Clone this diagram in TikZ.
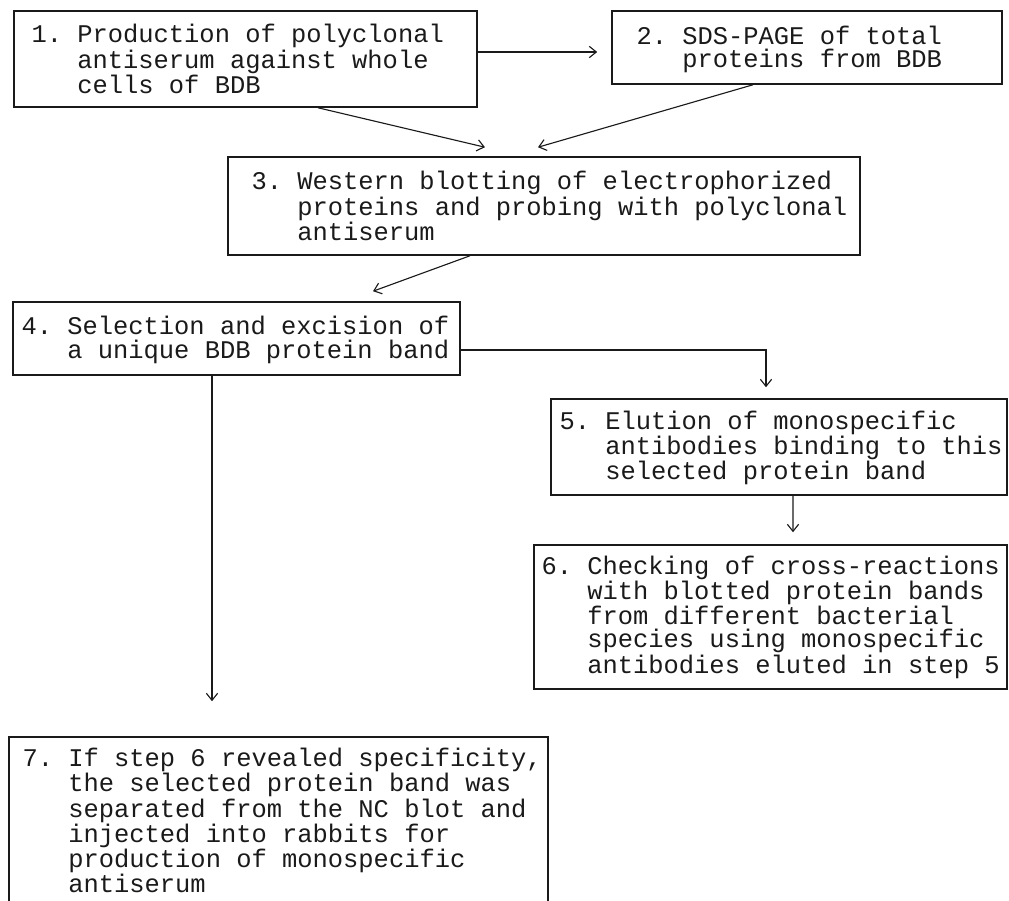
\documentclass[tikz,border=0pt]{standalone}
\usepackage{fontspec}
\setmonofont{Liberation Mono}
\usetikzlibrary{arrows.meta,calc,fit}
\definecolor{ink}{HTML}{1A1A1A}
\newcommand{\hangsp}{\hspace*{1.8em}}
\newcommand{\stepfont}{\ttfamily\fontsize{18.1}{16.7}\selectfont}

\begin{document}
\begin{tikzpicture}[x=0.025cm,y=-0.025cm,
  >={Straight Barb[length=5pt,width=8pt]},
  stepbox/.style={draw=ink,line width=1.1pt,inner sep=0pt},
  steptext/.style={anchor=west,align=left,inner sep=0pt,text=ink,font=\stepfont},
  link/.style={->,draw=ink,line width=0.8pt}]
\path[use as bounding box] (0,0) rectangle (1009,901);
\clip (0,0) rectangle (1009,901);

% boxes
\node (b1) [stepbox,fit={(14,11) (477,107)}] {};
\node (b2) [stepbox,fit={(612,11) (1002,84)}] {};
\node (b3) [stepbox,fit={(228,157) (860,255)}] {};
\node (b4) [stepbox,fit={(13,302) (460,375)}] {};
\node (b5) [stepbox,fit={(551,399) (1007,495)}] {};
\node (b6) [stepbox,fit={(534,545) (1007,689)}] {};
\node (b7) [stepbox,fit={(9,737) (548,904)}] {};

% texts
\node (t1) [steptext] at ($(b1.west)+(18,0)$) {1. Production of polyclonal\\\hangsp antiserum against whole\\\hangsp cells of BDB};
\node (t2) [steptext] at ($(b2.west)+(25,2)$) {2. SDS-PAGE of total\\\hangsp proteins from BDB};
\node (t3) [steptext] at ($(b3.west)+(24,0)$) {3. Western blotting of electrophorized\\\hangsp proteins and probing with polyclonal\\\hangsp antiserum};
\node (t4) [steptext] at ($(b4.west)+(9,1.5)$) {4. Selection and excision of\\\hangsp a unique BDB protein band};
\node (t5) [steptext] at ($(b5.west)+(9,1)$) {5. Elution of monospecific\\\hangsp antibodies binding to this\\\hangsp selected protein band};
\node (t6) [steptext] at ($(b6.west)+(8,0)$) {6. Checking of cross-reactions\\\hangsp with blotted protein bands\\\hangsp from different bacterial\\\hangsp species using monospecific\\\hangsp antibodies eluted in step 5};
\node (t7) [steptext] at ($(b7.west)+(14,0)$) {7. If step 6 revealed specificity,\\\hangsp the selected protein band was\\\hangsp separated from the NC blot and\\\hangsp injected into rabbits for\\\hangsp production of monospecific\\\hangsp antiserum};

% connectors
\coordinate (r12) at (0,52);
\coordinate (r45) at (0,350);
\draw[link] (b1.east |- r12) -- ($(b2.west |- r12)+(-14,0)$);
\draw[link] ($(b1.south)+(72.5,0)$) -- ($(b3.north)+(-59,-9)$);
\draw[link] ($(b2.south)+(-54,0)$) -- ($(b3.north)+(-6,-9)$);
\draw[link] ($(b3.south)+(-74,0)$) -- ($(b4.north)+(136.5,-10)$);
\draw[link] (b4.east |- r45) -| ($(b5.north)+(-13,-11)$);
\draw[link] ($(b4.south)+(-24.5,0)$) -- ($(b7.north)+(-66.5,-35)$);
\draw[link] ($(b5.south)+(14,0)$) -- ($(b6.north)+(22.5,-12)$);
\end{tikzpicture}
\end{document}
